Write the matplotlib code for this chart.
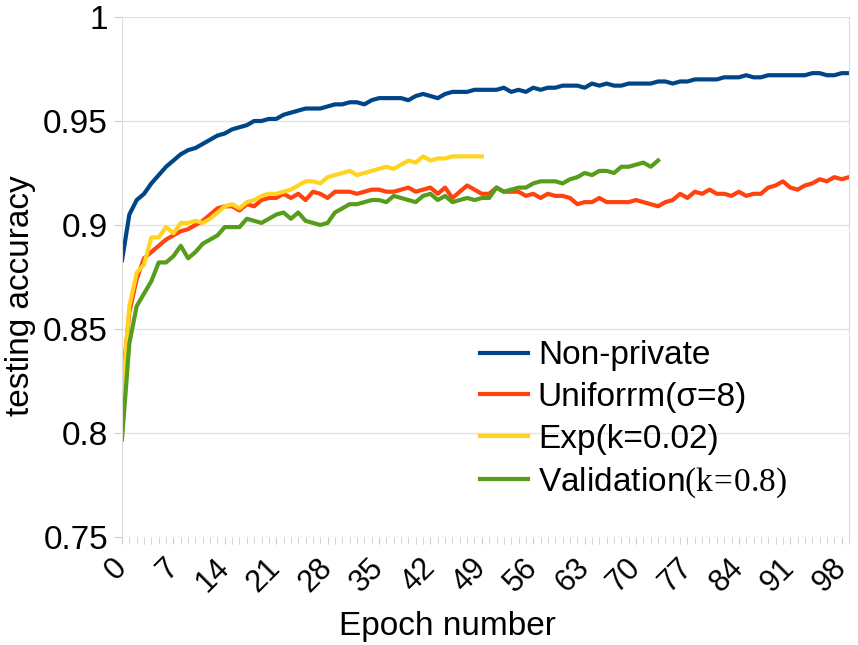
import numpy as np
import matplotlib
matplotlib.use("Agg")
import matplotlib.pyplot as plt
from matplotlib.ticker import MultipleLocator

plt.rcParams['font.family'] = ['Liberation Sans', 'DejaVu Sans']
plt.rcParams['mathtext.fontset'] = 'custom'
plt.rcParams['mathtext.rm'] = 'Liberation Serif'

# testing accuracy per epoch
non_private = [
    0.883, 0.905, 0.912, 0.915, 0.920, 0.924, 0.928, 0.931, 0.934, 0.936,
    0.937, 0.939, 0.941, 0.943, 0.944, 0.946, 0.947, 0.948, 0.950, 0.950,
    0.951, 0.951, 0.953, 0.954, 0.955, 0.956, 0.956, 0.956, 0.957, 0.958,
    0.958, 0.959, 0.959, 0.958, 0.960, 0.961, 0.961, 0.961, 0.961, 0.960,
    0.962, 0.963, 0.962, 0.961, 0.963, 0.964, 0.964, 0.964, 0.965, 0.965,
    0.965, 0.965, 0.966, 0.964, 0.965, 0.964, 0.966, 0.965, 0.966, 0.966,
    0.967, 0.967, 0.967, 0.966, 0.968, 0.967, 0.968, 0.967, 0.967, 0.968,
    0.968, 0.968, 0.968, 0.969, 0.969, 0.968, 0.969, 0.969, 0.970, 0.970,
    0.970, 0.970, 0.971, 0.971, 0.971, 0.972, 0.971, 0.971, 0.972, 0.972,
    0.972, 0.972, 0.972, 0.972, 0.973, 0.973, 0.972, 0.972, 0.973, 0.973,
]
uniform = [
    0.822, 0.858, 0.874, 0.884, 0.887, 0.890, 0.893, 0.895, 0.897, 0.898,
    0.900, 0.902, 0.905, 0.908, 0.909, 0.909, 0.907, 0.910, 0.909, 0.912,
    0.913, 0.913, 0.915, 0.913, 0.915, 0.912, 0.916, 0.915, 0.913, 0.916,
    0.916, 0.916, 0.915, 0.916, 0.917, 0.917, 0.916, 0.916, 0.917, 0.918,
    0.916, 0.917, 0.918, 0.915, 0.918, 0.913, 0.916, 0.919, 0.917, 0.915,
    0.915, 0.918, 0.916, 0.916, 0.916, 0.914, 0.915, 0.913, 0.915, 0.914,
    0.914, 0.913, 0.910, 0.911, 0.911, 0.913, 0.911, 0.911, 0.911, 0.911,
    0.912, 0.911, 0.910, 0.909, 0.911, 0.912, 0.915, 0.913, 0.916, 0.915,
    0.917, 0.915, 0.915, 0.914, 0.916, 0.914, 0.915, 0.915, 0.918, 0.919,
    0.921, 0.918, 0.917, 0.919, 0.920, 0.922, 0.921, 0.923, 0.922, 0.923,
]
exp_k = [
    0.816, 0.861, 0.877, 0.881, 0.894, 0.894, 0.899, 0.896, 0.901, 0.901,
    0.902, 0.901, 0.903, 0.906, 0.909, 0.910, 0.908, 0.911, 0.912, 0.914,
    0.915, 0.915, 0.916, 0.917, 0.919, 0.921, 0.921, 0.920, 0.923, 0.924,
    0.925, 0.926, 0.924, 0.925, 0.926, 0.927, 0.928, 0.927, 0.929, 0.931,
    0.930, 0.933, 0.931, 0.932, 0.932, 0.933, 0.933, 0.933, 0.933, 0.933,
]
validation = [
    0.797, 0.843, 0.861, 0.867, 0.873, 0.882, 0.882, 0.885, 0.890, 0.884,
    0.887, 0.891, 0.893, 0.895, 0.899, 0.899, 0.899, 0.903, 0.902, 0.901,
    0.903, 0.905, 0.906, 0.903, 0.906, 0.902, 0.901, 0.900, 0.901, 0.906,
    0.908, 0.910, 0.910, 0.911, 0.912, 0.912, 0.911, 0.914, 0.913, 0.912,
    0.911, 0.914, 0.915, 0.912, 0.914, 0.911, 0.912, 0.913, 0.912, 0.913,
    0.913, 0.918, 0.916, 0.917, 0.918, 0.918, 0.920, 0.921, 0.921, 0.921,
    0.920, 0.922, 0.923, 0.925, 0.924, 0.926, 0.926, 0.925, 0.928, 0.928,
    0.929, 0.930, 0.928, 0.931,
]

labels = ['Non-private', 'Uniforrm(σ=8)', 'Exp(k=0.02)',
          r'Validation$\mathrm{(k\!=\!0.8)}$']
colors = ['#004586', '#ff420e', '#ffd320', '#579d1c']

fig = plt.figure(figsize=(8.58, 6.45), dpi=100)
ax = fig.add_axes([122 / 858, 1 - 537 / 645, 727 / 858, 520 / 645])

for series, lab, col in zip([non_private, uniform, exp_k, validation], labels, colors):
    ax.plot(np.arange(len(series)), series, color=col, lw=3.0, label=lab)

ax.set_xlim(0, 99)
ax.set_ylim(0.75, 1.0)
ax.set_yticks(np.arange(0.75, 1.001, 0.05))
ax.set_yticklabels(['0.75', '0.8', '0.85', '0.9', '0.95', '1'])
ax.set_xticks(np.arange(0, 99, 7))
ax.xaxis.set_minor_locator(MultipleLocator(1))
ax.yaxis.grid(True, color='#e3e3e3', lw=1)
ax.set_axisbelow(True)

for s in ['top', 'bottom']:
    ax.spines[s].set_visible(False)
for s in ['left', 'right']:
    ax.spines[s].set_color('#dcdcdc')

ax.tick_params(axis='y', labelsize=24, length=6, color='#cccccc', pad=4)
ax.tick_params(axis='x', which='both', length=5, color='#cccccc')
ax.tick_params(axis='x', labelsize=22, pad=14)
for t in ax.get_xticklabels():
    t.set_rotation(45)
    t.set_ha('right')
    t.set_va('center')
    t.set_rotation_mode('anchor')

ax.set_xlabel('Epoch number', fontsize=24, labelpad=9)
ax.set_ylabel('testing accuracy', fontsize=24, labelpad=5)
ax.xaxis.label.set_x(0.448)
ax.yaxis.label.set_y(0.465)

ax.legend(loc='upper left', bbox_to_anchor=(0.461, 0.423), frameon=False,
          fontsize=24, handlelength=1.42, handletextpad=0.3, labelspacing=0.32,
          borderpad=0.2)

fig.savefig('out.png', dpi=100)
